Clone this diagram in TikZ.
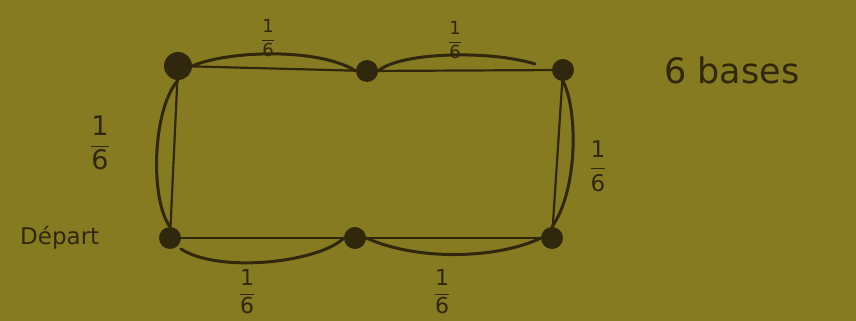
\documentclass[tikz,border=0pt]{standalone}
\usepackage{fontspec}
\setmainfont{DejaVu Sans}
\definecolor{paper}{RGB}{134,123,33}
\definecolor{ink}{RGB}{48,40,12}
\newcommand\onesixth{$\displaystyle\frac{\hbox{1}}{\hbox{6}}$}
\begin{document}
\begin{tikzpicture}[x=1pt,y=-1pt,
  dot/.style={circle,fill=ink,inner sep=0pt,minimum size=22pt},
  bigdot/.style={circle,fill=ink,inner sep=0pt,minimum size=28pt},
  edge/.style={draw=ink,line width=2.2pt},
  arc/.style={draw=ink,line width=3pt,line cap=round},
  lab/.style={text=ink,inner sep=0pt}]
\fill[paper] (0,0) rectangle (856,321);
\useasboundingbox (0,0) rectangle (856,321);
\node[bigdot] (tl) at (178,66) {};
\node[dot] (tm) at (367,71) {};
\node[dot] (tr) at (563,70) {};
\node[dot] (bl) at (170,238) {};
\node[dot] (bm) at (355,238) {};
\node[dot] (br) at (552,238) {};
% straight edges
\draw[edge] (tl.center) -- (tm.center);
\draw[edge] (tm.center) -- (tr.center);
\draw[edge] (tr.center) -- (br.center);
\draw[edge] (br.center) -- (bm.center);
\draw[edge] (bm.center) -- (bl.center);
\draw[edge] (bl.center) -- (tl.center);
% arcs
\draw[arc] (tl.east) .. controls (230,50) and (320,48) .. (tm.west);
\draw[arc] (tm.east) .. controls (400,52) and (490,50) .. (535,64);
\draw[arc] (tr.south) .. controls (578,110) and (578,190) .. (br.north);
\draw[arc] (br.west) .. controls (500,258) and (420,262) .. (bm.east);
\draw[arc] (bm.west) .. controls (320,262) and (220,274) .. (181,249);
\draw[arc] (bl.north) .. controls (150,200) and (152,110) .. (tl.south);
% labels
\node[lab,font=\fontsize{18}{21}\selectfont] (f1) at (268,38) {\onesixth};
\node[lab,font=\fontsize{18}{21}\selectfont] (f2) at (455,40) {\onesixth};
\node[lab,font=\fontsize{27}{32}\selectfont] (f3) at (100,143) {\onesixth};
\node[lab,font=\fontsize{23}{27}\selectfont] (f4) at (598,166) {\onesixth};
\node[lab,font=\fontsize{22}{26}\selectfont] (f5) at (247,292) {\onesixth};
\node[lab,font=\fontsize{22}{26}\selectfont] (f6) at (442,292) {\onesixth};
\node[lab,font=\fontsize{35}{40}\selectfont,anchor=west] (bases) at (664,70) {6 bases};
\node[lab,font=\fontsize{23}{27}\selectfont,anchor=west] (depart) at (20,238) {Départ};
\end{tikzpicture}
\end{document}
